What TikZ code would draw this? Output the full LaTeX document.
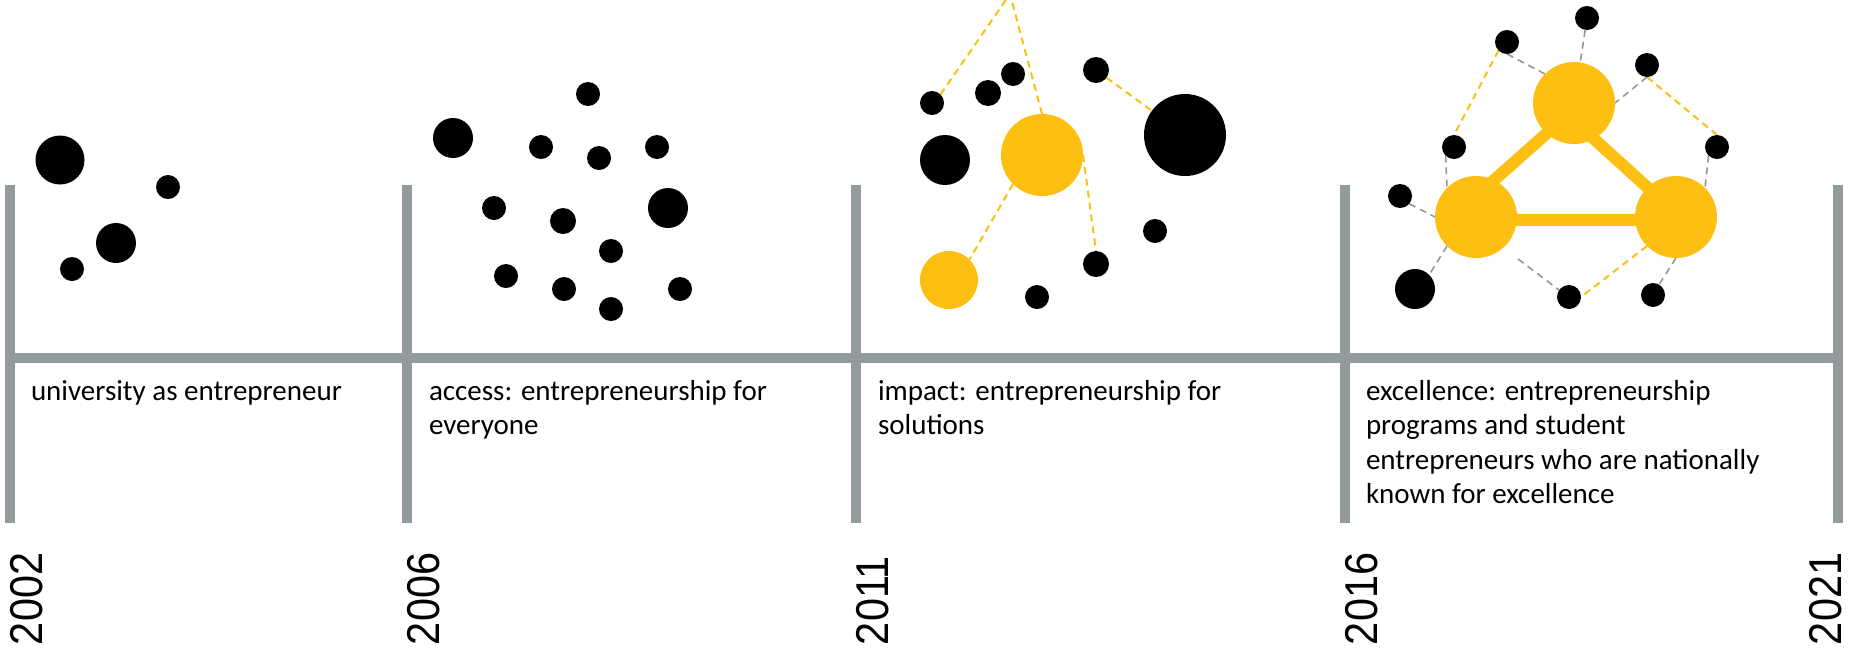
\documentclass[tikz,border=0pt]{standalone}
\usepackage{fontspec}
\usepackage{graphicx}
\setmainfont{Carlito}
\newfontfamily\yearfont{Liberation Sans}
\usetikzlibrary{backgrounds}
\definecolor{ygold}{RGB}{253,191,17}
\definecolor{tlgray}{RGB}{147,155,156}
\definecolor{dgray}{RGB}{150,150,150}
\begin{document}
\begin{tikzpicture}[x=1pt,y=-1pt,
  dot/.style={circle,fill=black,inner sep=0pt,outer sep=0pt,draw=none},
  ydot/.style={circle,fill=ygold,inner sep=0pt,outer sep=0pt,draw=none},
  ydash/.style={draw=ygold,line width=2pt,dash pattern=on 7pt off 5pt},
  gdash/.style={draw=dgray,line width=1.6pt,dash pattern=on 7pt off 5pt},
  tlbar/.style={draw=tlgray,line width=10pt},
  link/.style={draw=ygold,line width=12pt,shorten <=-8pt,shorten >=-8pt},
  desc/.style={anchor=north west,inner sep=0pt,outer sep=0pt,align=left,font=\fontsize{29}{34.5}\selectfont},
  year/.style={rotate=90,anchor=base west,inner sep=0pt,outer sep=0pt,font=\yearfont\fontsize{46}{46}\selectfont}]
\useasboundingbox (0,0) rectangle (1849,649);

% timeline
\draw[tlbar] (10,185) -- (10,523);
\draw[tlbar] (407,185) -- (407,523);
\draw[tlbar] (856,185) -- (856,523);
\draw[tlbar] (1345,185) -- (1345,523);
\draw[tlbar] (1838,185) -- (1838,523);
\draw[tlbar] (5,358) -- (1843,358);

% descriptions
\node[desc] (d1) at (31,375.9) {\strut university as entrepreneur};
\node[desc] (d2) at (429,375.9) {\strut access: entrepreneurship for\\everyone};
\node[desc] (d3) at (878,375.9) {\strut impact: entrepreneurship for\\solutions};
\node[desc] (d4) at (1366,375.9) {\strut excellence: entrepreneurship\\programs and student\\entrepreneurs who are nationally\\known for excellence};

% years
\node[year] (y1) at (42,645) {\scalebox{0.9}[1]{2002}};
\node[year] (y2) at (439,645) {\scalebox{0.9}[1]{2006}};
\node[year] (y3) at (888,645) {\scalebox{0.9}[1]{2011}};
\node[year] (y4) at (1377,645) {\scalebox{0.9}[1]{2016}};
\node[year] (y5) at (1841,645) {\scalebox{0.9}[1]{2021}};

% section 1
\node[dot,minimum size=49pt] (s1a) at (60,160) {};
\node[dot,minimum size=24pt] (s1b) at (168,187) {};
\node[dot,minimum size=40pt] (s1c) at (116,243) {};
\node[dot,minimum size=24pt] (s1d) at (72,269) {};

% section 2
\node[dot,minimum size=40pt] (s2a) at (453,138) {};
\node[dot,minimum size=24pt] (s2b) at (588,94) {};
\node[dot,minimum size=24pt] (s2c) at (541,147) {};
\node[dot,minimum size=24pt] (s2d) at (599,158) {};
\node[dot,minimum size=24pt] (s2e) at (657,147) {};
\node[dot,minimum size=24pt] (s2f) at (494,208) {};
\node[dot,minimum size=26pt] (s2g) at (563,221) {};
\node[dot,minimum size=40pt] (s2h) at (668,208) {};
\node[dot,minimum size=24pt] (s2i) at (611,251) {};
\node[dot,minimum size=24pt] (s2j) at (506,276) {};
\node[dot,minimum size=24pt] (s2k) at (564,289) {};
\node[dot,minimum size=24pt] (s2l) at (611,309) {};
\node[dot,minimum size=24pt] (s2m) at (680,289) {};

% section 3
\coordinate (top) at (1010,-6);
\node[dot,minimum size=24pt] (a1) at (932,103) {};
\node[dot,minimum size=26pt] (a2) at (988,93) {};
\node[dot,minimum size=24pt] (a3) at (1013,74) {};
\node[dot,minimum size=26pt] (a4) at (1096,70) {};
\node[dot,minimum size=82pt] (a5) at (1185,135) {};
\node[dot,minimum size=50pt] (a6) at (945,160) {};
\node[ydot,minimum size=82pt] (yb) at (1042,155) {};
\node[ydot,minimum size=58pt] (ys) at (949,280) {};
\node[dot,minimum size=24pt] (a7) at (1155,231) {};
\node[dot,minimum size=26pt] (a8) at (1096,264) {};
\node[dot,minimum size=24pt] (a9) at (1037,297) {};

% section 4
\node[dot,minimum size=24pt] (b0) at (1587,18) {};
\node[dot,minimum size=24pt] (b1) at (1507,42) {};
\node[dot,minimum size=24pt] (b2) at (1647,65) {};
\node[ydot,minimum size=82pt] (Y1) at (1574,103) {};
\node[dot,minimum size=24pt] (b3) at (1454,147) {};
\node[dot,minimum size=24pt] (b7) at (1717,147) {};
\node[dot,minimum size=24pt] (b4) at (1400,196) {};
\node[ydot,minimum size=82pt] (YL) at (1476,217) {};
\node[ydot,minimum size=82pt] (YR) at (1676,217) {};
\node[dot,minimum size=40pt] (bb) at (1415,289) {};
\node[dot,minimum size=24pt] (b5) at (1569,297) {};
\node[dot,minimum size=24pt] (b6) at (1653,295) {};
\coordinate (g1) at (1518,259);

\begin{pgfonlayer}{background}
  % section 3 links
  \draw[ydash] (a1.45) -- (top);
  \draw[ydash] (yb.north) -- (top);
  \draw[ydash] (a4) -- (a5);
  \draw[ydash] (yb.-135) -- (ys.45);
  \draw[ydash] (yb.east) -- (a8.north);
  % section 4 links
  \draw[link] (YL.64) -- (Y1.-132);
  \draw[link] (Y1.-61) -- (YR.134);
  \draw[link] (YL.-4) -- (YR.-176);
  \draw[gdash] (b0) -- (Y1);
  \draw[gdash] (b1.south) -- (Y1.135);
  \draw[gdash] (b2.south) -- (Y1.east);
  \draw[gdash] (b3.-135) -- (YL.135);
  \draw[gdash] (b4.-40) -- (YL.west);
  \draw[gdash] (YL.-135) -- (bb.45);
  \draw[gdash] (g1) -- (b5.145);
  \draw[gdash] (YR.south) -- (b6.60);
  \draw[gdash] (b7.-135) -- (YR.45);
  \draw[ydash] (b1.-135) -- (b3.north);
  \draw[ydash] (b2.south) -- (b7.north);
  \draw[ydash] (YR.-135) -- (b5.east);
\end{pgfonlayer}
\end{tikzpicture}
\end{document}
